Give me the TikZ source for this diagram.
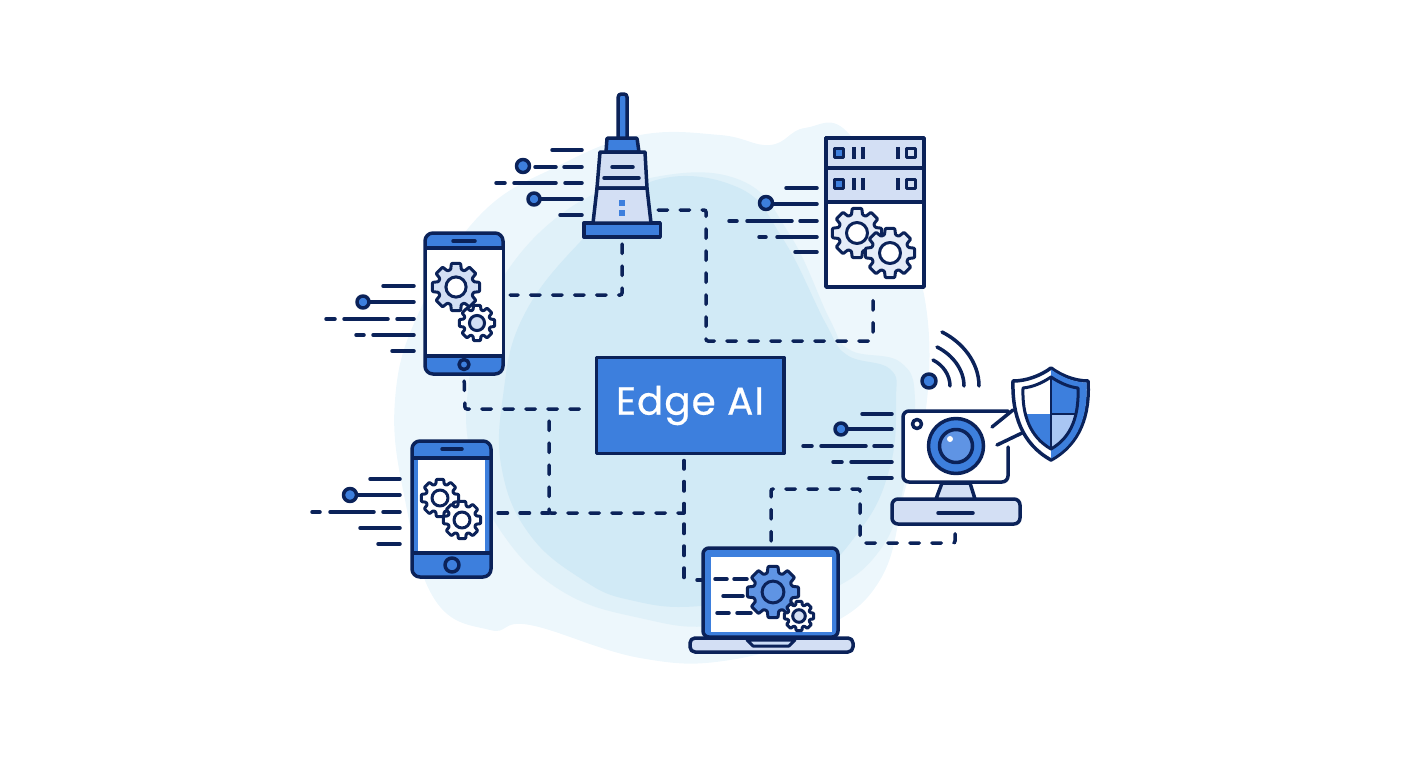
\documentclass[tikz,border=0pt]{standalone}
\usepackage{fontspec}
\setmainfont{Poppins}
\usepackage{tikz}
\usetikzlibrary{calc}
\definecolor{navy}{HTML}{0B2259}
\definecolor{mainblue}{HTML}{3D7FDD}
\definecolor{midblue}{HTML}{5F94E4}
\definecolor{paleblue}{HTML}{D3DFF4}
\definecolor{skyblue}{HTML}{A9C6F3}
\definecolor{hazea}{HTML}{EDF7FC}
\definecolor{hazeb}{HTML}{E0F1F9}
\definecolor{hazec}{HTML}{D1EAF6}
\tikzset{
  outline/.style={draw=navy,line width=3.5pt,line join=round},
  box/.style={outline,inner sep=0pt,outer sep=0pt,minimum width=#1},
  link/.style={draw=navy,line width=3.5pt,line cap=round,dash pattern=on 9.5pt off 12.5pt,
    rounded corners=2pt,shorten <=7pt,shorten >=7pt},
  speed/.style={draw=navy,line width=3.5pt,line cap=round},
  dot/.style={outline,fill=mainblue},
  pics/gear/.style n args={3}{code={
    \draw[outline,line width=3pt,fill=#2,rounded corners=0.8pt] (-17:#1*0.76)
      \foreach \a in {0,45,...,315} {
        -- (\a-17:#1*0.76) -- (\a-11:#1) -- (\a+11:#1) -- (\a+17:#1*0.76)
      } -- cycle;
    \draw[outline,line width=3pt,fill=#3] (0,0) circle [radius=#1*0.42];
  }}
}
\begin{document}
\begin{tikzpicture}[x=1pt,y=-1pt]
  \useasboundingbox (0,0) rectangle (1408,768);
  % background
  \fill[hazea] plot[smooth cycle,tension=0.7] coordinates {(560,165) (640,135) (720,135) (770,145) (805,128) (850,135) (900,240) (925,300) (927,400) (905,490) (880,580) (820,630) (730,660) (640,658) (530,625) (490,630) (435,600) (405,500) (395,400) (420,310) (480,215)};
  \fill[hazeb] plot[smooth cycle,tension=0.7] coordinates {(560,215) (650,178) (740,180) (790,235) (830,320) (850,350) (900,362) (915,400) (905,480) (880,550) (820,595) (720,625) (640,618) (560,590) (500,530) (472,460) (468,390) (490,300)};
  \fill[hazec] plot[smooth cycle,tension=0.7] coordinates {(650,182) (737,187) (783,239) (826,324) (847,355) (890,369) (896,400) (890,467) (860,530) (800,585) (700,606) (630,600) (583,580) (530,535) (502,470) (503,396) (523,317) (580,242)};

  % bodies
  \node[box=187.5pt,minimum height=96pt,fill=mainblue,text=white,font=\fontsize{39}{42}\selectfont\addfontfeature{LetterSpace=2.4,FakeBold=0.5}] (edge) at (690,405.5) {\raisebox{-1.5pt}{Edge AI}};
  \node[box=76.5pt,minimum height=14pt,fill=mainblue] (routerbase) at (622,230) {};
  \node[box=78pt,minimum height=141pt,fill=mainblue,rounded corners=8pt] (phoneA) at (464,303.5) {};
  \node[box=79pt,minimum height=136pt,fill=mainblue,rounded corners=8pt] (phoneB) at (451.5,509) {};
  \node[box=98pt,minimum height=149pt,fill=white] (server) at (875,212.5) {};
  \node[box=135pt,minimum height=89pt,fill=mainblue,rounded corners=6pt] (laptop) at (770.5,592.5) {};
  \node[box=128pt,minimum height=25pt,fill=paleblue,rounded corners=6pt] (camerabase) at (956,511.5) {};
  \coordinate (routerside) at (651,210);

  % connectors
  \coordinate (bendA) at (622,295);
  \draw[link] (routerbase.south) -- (bendA) -- (phoneA.east |- bendA);
  \coordinate (bendB) at (706,210);
  \coordinate (bendC) at (706,341);
  \coordinate (bendD) at (873,341);
  \draw[link] (routerside) -- (bendB) -- (bendC) -- (bendD) -- (bendD |- server.south);
  \coordinate (bendE) at (465,409);
  \draw[link] (phoneA.south) -- (bendE) -- (edge.west |- bendE);
  \coordinate (busA) at (549,409);
  \coordinate (busB) at (684,513);
  \coordinate (busC) at (549,513);
  \draw[link,shorten <=12pt,shorten >=0pt] (busA) -- (busC) -- (busB);
  \draw[link,shorten >=0pt] (phoneB.east |- busB) -- (busC);
  \draw[link,shorten <=0pt] (busB) -- (busB |- edge.south);
  \coordinate (lapin) at (684,580);
  \draw[link,shorten <=11pt,shorten >=0pt] (busB) -- (lapin);
  \draw[speed] ($(laptop.west |- lapin)+(-6,0)$) -- (laptop.west |- lapin);
  \coordinate (bendF) at (771,489);
  \coordinate (bendG) at (860,489);
  \coordinate (bendH) at (860,543);
  \coordinate (bendI) at (955,543);
  \draw[link] (bendF |- laptop.north) -- (bendF) -- (bendG) -- (bendH) -- (bendI) -- (bendI |- camerabase.south);

  % speed lines
  \foreach \xa/\xb/\yy in {552/582/150,535/556/167,564/582/167,496/505/183,514/556/183,565/582/183,534/582/199,560/582/215,
      786/817/188,766/817/204,729/737/221,747/792/221,800/817/221,759/766/237,777/817/237,795/817/252,
      383/414/286,363/414/302,326/335/319,344/388/319,397/414/319,356/364/335,373/414/335,392/414/351,
      370/400/479,350/400/495,312/320/512,330/374/512,383/400/512,360/400/528,378/400/544,
      862/892/414,841/892/429,803/812/446,821/866/446,874/892/446,833/842/462,851/892/462,869/892/478}
    \draw[speed] (\xa,\yy) -- (\xb,\yy);
  \foreach \xa/\yy/\rr in {523/166/6.5,534/199/6,766/203/6.5,363/302/6,350/495/6.5,841/429/6}
    \draw[dot] (\xa,\yy) circle [radius=\rr];

  % router
  \draw[outline,fill=mainblue,rounded corners=3pt] (618.2,138) -- (618.2,94) -- (627,94) -- (627,138);
  \draw[outline,fill=mainblue,rounded corners=1pt] (606,152) -- (607,138) -- (637,138) -- (639,152) -- cycle;
  \draw[outline,fill=paleblue] (600,152) -- (645,152) -- (647,188) -- (597,188) -- cycle;
  \draw[outline,fill=paleblue] (597,188) -- (647,188) -- (651,223) -- (593,223) -- cycle;
  \draw[speed] (612,167) -- (633,167);
  \draw[speed] (604,178) -- (639,178);
  \fill[mainblue] (619.2,200.2) rectangle (624.8,205.8);
  \fill[mainblue] (619.2,210.2) rectangle (624.8,215.8);

  % server
  \draw[outline,fill=paleblue] (server.north west) rectangle (924,168);
  \draw[outline,fill=paleblue] (826,168) rectangle (924,202);
  \foreach \yy in {153,184} {
    \draw[outline,line width=3pt,fill=mainblue] (834.5,\yy-4.5) rectangle (843.5,\yy+4.5);
    \draw[outline,line width=3pt,fill=paleblue] (906.5,\yy-4.5) rectangle (915.5,\yy+4.5);
    \foreach \xa in {854,863,898}
      \draw[speed,line cap=butt] (\xa,\yy-6) -- (\xa,\yy+6);
  }
  \pic at (857,233) {gear={25}{paleblue!60}{white}};
  \pic at (890,253) {gear={25}{paleblue!60}{white}};

  % first phone
  \fill[white] (426.5,248) rectangle (501.5,356);
  \draw[outline] (425,248) -- (503,248);
  \draw[outline] (425,356) -- (503,356);
  \draw[speed] (453,241) -- (475,241);
  \draw[outline,fill=mainblue] (464,364.5) circle [radius=5];
  \pic at (456,287) {gear={24}{paleblue}{white}};
  \pic at (477,323) {gear={18}{white}{paleblue}};

  % second phone
  \fill[white] (418,458) rectangle (485,553);
  \draw[outline] (412,458) -- (491,458);
  \draw[outline] (412,553) -- (491,553);
  \draw[speed] (442,449) -- (462,449);
  \draw[outline,fill=mainblue] (452,565) circle [radius=7];
  \pic at (440,498) {gear={19}{white}{white}};
  \pic at (462,520) {gear={19}{white}{white}};

  % laptop
  \fill[white] (711,557) rectangle (832,632);
  \draw[outline,fill=paleblue,rounded corners=5pt] (690,638) -- (853,638) -- (853,652) -- (690,652) -- cycle;
  \draw[outline,line width=3pt,fill=skyblue!60] (747,640) -- (795,640) -- (789,646) -- (753,646) -- cycle;
  \foreach \xa/\xb/\yy in {715/727/579,734/747/579,723/743/596,717/729/613,737/751/613}
    \draw[speed] (\xa,\yy) -- (\xb,\yy);
  \pic at (773,592) {gear={26}{midblue}{midblue}};
  \pic at (799,616) {gear={15}{white}{paleblue}};

  % camera
  \draw[outline,fill=paleblue] (942,483) -- (970,483) -- (975,499) -- (936,499) -- cycle;
  \draw[speed] (938,513) -- (973,513);
  \node[minimum width=105pt,minimum height=71pt,inner sep=0pt,fill=white,rounded corners=6pt] (camera) at (955.5,446.5) {};
  \draw[outline,rounded corners=6pt,line cap=round] (1008,447) -- (1008,482) -- (903,482) -- (903,411) -- (1008,411);
  \draw[outline,fill=white] (917,424) circle [radius=4.5];
  \draw[outline,fill=mainblue] (956,446) circle [radius=27.5];
  \draw[outline,fill=midblue] (956,446) circle [radius=16.5];
  \fill[white] (950,439) circle [radius=3];
  \draw[speed] (992,427) -- (1013,410);
  \draw[speed] (997,445) -- (1022,433);
  \draw[dot] (929,381) circle [radius=7];
  \draw[speed] (950,386) .. controls (950,375) and (943,365) .. (933,360);
  \draw[speed] (964,386) .. controls (964,370) and (953,355) .. (937,347);
  \draw[speed] (979,386) .. controls (979,362) and (962,342) .. (942,332);

  % shield
  \draw[outline,fill=white] (1051,368) .. controls (1040,376) and (1026,381) .. (1013,381) .. controls (1012,415) and (1022,444) .. (1051,460) .. controls (1080,444) and (1090,415) .. (1088,381) .. controls (1075,381) and (1062,376) .. (1051,368) -- cycle;
  \fill[mainblue] (1051,369.5) .. controls (1062,377.5) and (1075,382.5) .. (1086.5,382.5) .. controls (1088,415) and (1079,443) .. (1051,458.5) -- cycle;
  \fill[white] (1051,377) .. controls (1042,383) and (1033,387) .. (1023,388) .. controls (1022,398) and (1023,406) .. (1025,414) -- (1051,414) -- cycle;
  \fill[mainblue] (1051,377) .. controls (1060,383) and (1069,387) .. (1078,388) .. controls (1079,398) and (1078,406) .. (1076,414) -- (1051,414) -- cycle;
  \fill[mainblue] (1025,414) .. controls (1029,429) and (1038,441) .. (1051,449) -- (1051,414) -- cycle;
  \fill[skyblue] (1076,414) .. controls (1072,429) and (1064,441) .. (1051,449) -- (1051,414) -- cycle;
  \draw[outline,line width=3pt] (1051,377) .. controls (1042,383) and (1033,387) .. (1023,388) .. controls (1022,415) and (1030,437) .. (1051,449) .. controls (1072,437) and (1079,415) .. (1078,388) .. controls (1069,387) and (1060,383) .. (1051,377) -- cycle;
  \draw[outline,line width=2.5pt] (1051,377) -- (1051,449);
  \draw[outline,line width=1.2pt] (1051,414) -- (1076,414);
\end{tikzpicture}
\end{document}
